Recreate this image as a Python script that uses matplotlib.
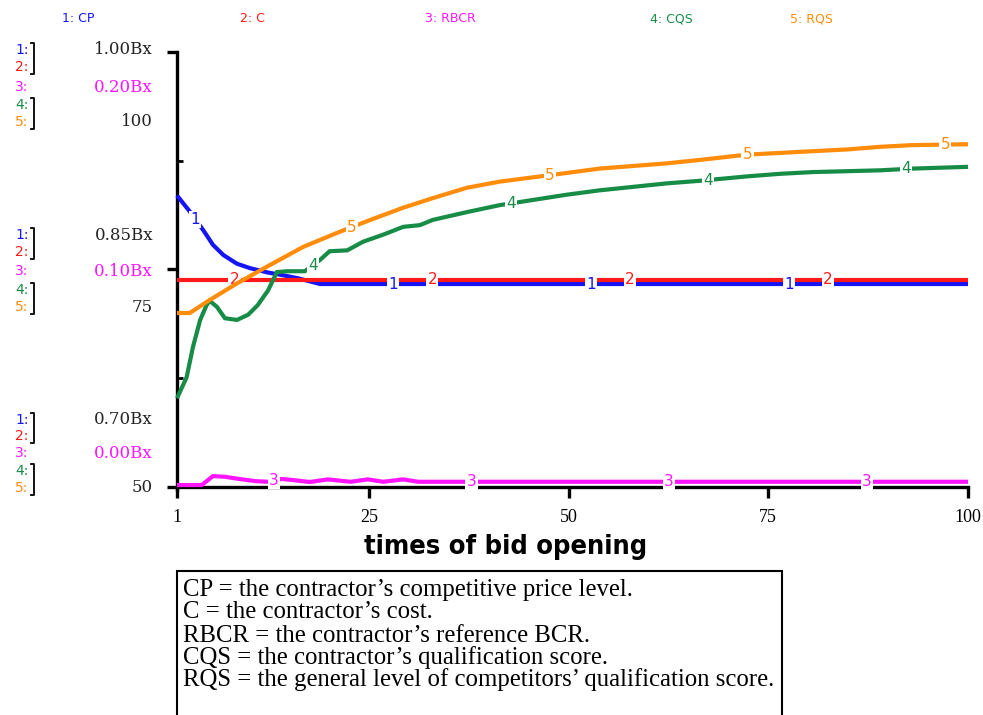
import numpy as np
import matplotlib
matplotlib.use("Agg")
import matplotlib.pyplot as plt
from matplotlib.patches import Rectangle
from matplotlib.lines import Line2D

# ---- data -------------------------------------------------------------
# 1: CP  - contractor's competitive price level (Bx)
t_cp = [1, 2.6, 4.3, 5.5, 6.8, 8.5, 10.1, 12.3, 14.3, 16.1, 18.9, 100]
cp = [0.901, 0.890, 0.877, 0.867, 0.860, 0.854, 0.851, 0.848, 0.846, 0.844, 0.840, 0.840]

# 2: C - contractor's cost (Bx)
t_c = [1, 100]
c = [0.843, 0.843]

# 3: RBCR - contractor's reference BCR (Bx)
t_rbcr = [1, 4.1, 5.5, 7.0, 8.6, 10.8, 12.4, 14.1, 15.5, 17.6, 19.9, 22.7,
          24.9, 26.8, 29.3, 31.2, 100]
rbcr = [0.0009, 0.0009, 0.0050, 0.0047, 0.0038, 0.0027, 0.0024, 0.0037, 0.0032,
        0.0023, 0.0035, 0.0024, 0.0035, 0.0024, 0.0035, 0.0024, 0.0024]

# 4: CQS - contractor's qualification score
t_cqs = [1, 2.2, 3.0, 3.9, 4.7, 5.1, 6.0, 7.0, 8.5, 9.9, 11.1, 12.4, 13.5, 14.8,
         17.0, 18.9, 20.1, 22.3, 24.3, 26.8, 29.3, 31.4, 33.0, 37.3, 41.4, 45.6,
         49.8, 53.9, 58.1, 62.3, 66.5, 72.3, 76.5, 80.6, 84.9, 89.0, 93.1, 100]
cqs = [60.2, 62.6, 66.1, 69.2, 70.9, 71.4, 70.7, 69.4, 69.2, 69.8, 70.9, 72.6,
       74.7, 74.8, 74.8, 76.1, 77.1, 77.2, 78.2, 79.0, 79.9, 80.1, 80.7, 81.6,
       82.4, 83.0, 83.6, 84.1, 84.5, 84.9, 85.2, 85.7, 86.0, 86.2, 86.3, 86.4,
       86.6, 86.8]

# 5: RQS - general level of competitors' qualification score
t_rqs = [1, 2.6, 5.1, 8.5, 12.6, 16.8, 21.0, 25.2, 29.3, 33.0, 37.3, 41.4, 45.6,
         49.8, 53.9, 58.1, 62.3, 66.5, 72.3, 76.5, 80.6, 84.9, 89.0, 93.1, 100]
rqs = [70.0, 70.0, 71.5, 73.4, 75.5, 77.6, 79.2, 80.7, 82.1, 83.2, 84.4, 85.1,
       85.6, 86.1, 86.6, 86.9, 87.2, 87.6, 88.2, 88.4, 88.6, 88.8, 89.1, 89.3,
       89.4]

series_names = ["CP", "C", "RBCR", "CQS", "RQS"]
colors = ["#1414F5", "#FF1A1A", "#FF14FF", "#168C46", "#FF8C0A"]

x_ticks = [1, 25, 50, 75, 100]
price_levels = [0.70, 0.85, 1.00]
price_labels = ["0.70Bx", "0.85Bx", "1.00Bx"]
bcr_levels = [0.00, 0.10, 0.20]
bcr_labels = ["0.00Bx", "0.10Bx", "0.20Bx"]
score_levels = [50, 75, 100]
score_labels = ["50", "75", "100"]

legend_lines = [
    "CP = the contractor\u2019s competitive price level.",
    "C = the contractor\u2019s cost.",
    "RBCR = the contractor\u2019s reference BCR.",
    "CQS = the contractor\u2019s qualification score.",
    "RQS = the general level of competitors\u2019 qualification score.",
]

# ---- figure -----------------------------------------------------------
W, H = 983, 715
fig = plt.figure(figsize=(W / 100, H / 100), dpi=100)
fig.patch.set_facecolor("white")


def fx(px):
    return px / W


def fy(py):
    return 1 - py / H


rect = [fx(177), fy(487), fx(968) - fx(177), fy(52) - fy(487)]

# base axes: frame and ticks
base = fig.add_axes(rect)
base.set_facecolor("none")
base.set_xlim(1, 100)
base.set_ylim(score_levels[0], score_levels[-1])
for s in ["top", "right"]:
    base.spines[s].set_visible(False)
for s in ["left", "bottom"]:
    base.spines[s].set_linewidth(2.4)
    base.spines[s].set_color("black")
base.spines["left"].set_bounds(score_levels[0] - 0.4, score_levels[-1])
base.set_xticks(x_ticks)
base.set_xticklabels([str(v) for v in x_ticks], fontfamily="Liberation Serif",
                     fontsize=13)
base.tick_params(axis="x", direction="out", length=8, width=2.4, pad=8)
base.set_yticks(score_levels)
base.set_yticks([62.5, 87.5], minor=True)
base.set_yticklabels([])
base.tick_params(axis="y", which="major", direction="out", length=7, width=2.4)
base.tick_params(axis="y", which="minor", direction="in", length=4, width=2.0)

# axis title, set a little left of the plot centre
fig.text(fx(506), fy(547), "times of bid opening", fontfamily="DejaVu Sans",
         fontstretch="condensed", fontweight="bold", fontsize=19.5,
         ha="center", va="center")


def overlay(lims):
    a = fig.add_axes(rect, sharex=base)
    a.set_facecolor("none")
    a.set_ylim(*lims)
    a.axis("off")
    return a


ax_p = overlay((price_levels[0], price_levels[-1]))
ax_r = overlay((bcr_levels[0], bcr_levels[-1]))
ax_q = overlay((score_levels[0], score_levels[-1]))

plots = [
    (ax_p, t_cp, cp),
    (ax_p, t_c, c),
    (ax_r, t_rbcr, rbcr),
    (ax_q, t_cqs, cqs),
    (ax_q, t_rqs, rqs),
]

for i, (a, tt, vv) in enumerate(plots):
    a.plot(tt, vv, color=colors[i], lw=3.0, solid_capstyle="butt",
           solid_joinstyle="miter", zorder=3, clip_on=False)

# numbered markers along each curve
for i, (a, tt, vv) in enumerate(plots):
    first = 3.3 + 4.9 * i
    for k in range(4):
        tl = first + 24.75 * k
        yl = np.interp(tl, tt, vv)
        a.text(tl, yl, str(i + 1), color=colors[i], fontsize=11,
               fontfamily="DejaVu Sans", ha="center", va="center", zorder=4,
               bbox=dict(boxstyle="square,pad=0.08", fc="white", ec="none"))

# header with series names
header_x = [62, 240, 425, 650, 790]
for i, name in enumerate(series_names):
    fig.text(fx(header_x[i]), fy(19), f"{i + 1}: {name}", color=colors[i],
             fontsize=9, fontfamily="DejaVu Sans", ha="left", va="center")

# left scale blocks
blocks = [
    (2, [50, 67, 87, 105, 122]),
    (1, [235, 252, 271, 290, 307]),
    (0, [420, 436, 453, 471, 488]),
]
for lvl, ys in blocks:
    for i in range(5):
        fig.text(fx(15), fy(ys[i]), f"{i + 1}:", color=colors[i], fontsize=10,
                 fontfamily="DejaVu Sans", ha="left", va="center")
    for (a, b) in [(0, 1), (3, 4)]:
        y0, y1 = ys[a] - 7, ys[b] + 7
        fig.add_artist(Line2D([fx(31), fx(34), fx(34), fx(31)],
                              [fy(y0), fy(y0), fy(y1), fy(y1)],
                              color="black", lw=1.3))
    fig.text(fx(153), fy(ys[0]), price_labels[lvl], color="#222222",
             fontsize=12, fontfamily="DejaVu Serif", ha="right", va="center")
    fig.text(fx(153), fy(ys[2]), bcr_labels[lvl], color=colors[2],
             fontsize=12, fontfamily="DejaVu Serif", ha="right", va="center")
    fig.text(fx(153), fy(ys[4]), score_labels[lvl], color="#222222",
             fontsize=12, fontfamily="DejaVu Serif", ha="right", va="center")

# definitions box
fig.add_artist(Rectangle((fx(177), fy(717)), fx(782) - fx(177), fy(571) - fy(717),
                         transform=fig.transFigure, fill=False, ec="black", lw=1.5))
line_y = [590, 612, 636, 658, 680]
for yy, txt in zip(line_y, legend_lines):
    fig.text(fx(183), fy(yy), txt, fontsize=17.8, fontfamily="Liberation Serif",
             ha="left", va="center", color="black")

fig.savefig("out.png", dpi=100, facecolor="white")
